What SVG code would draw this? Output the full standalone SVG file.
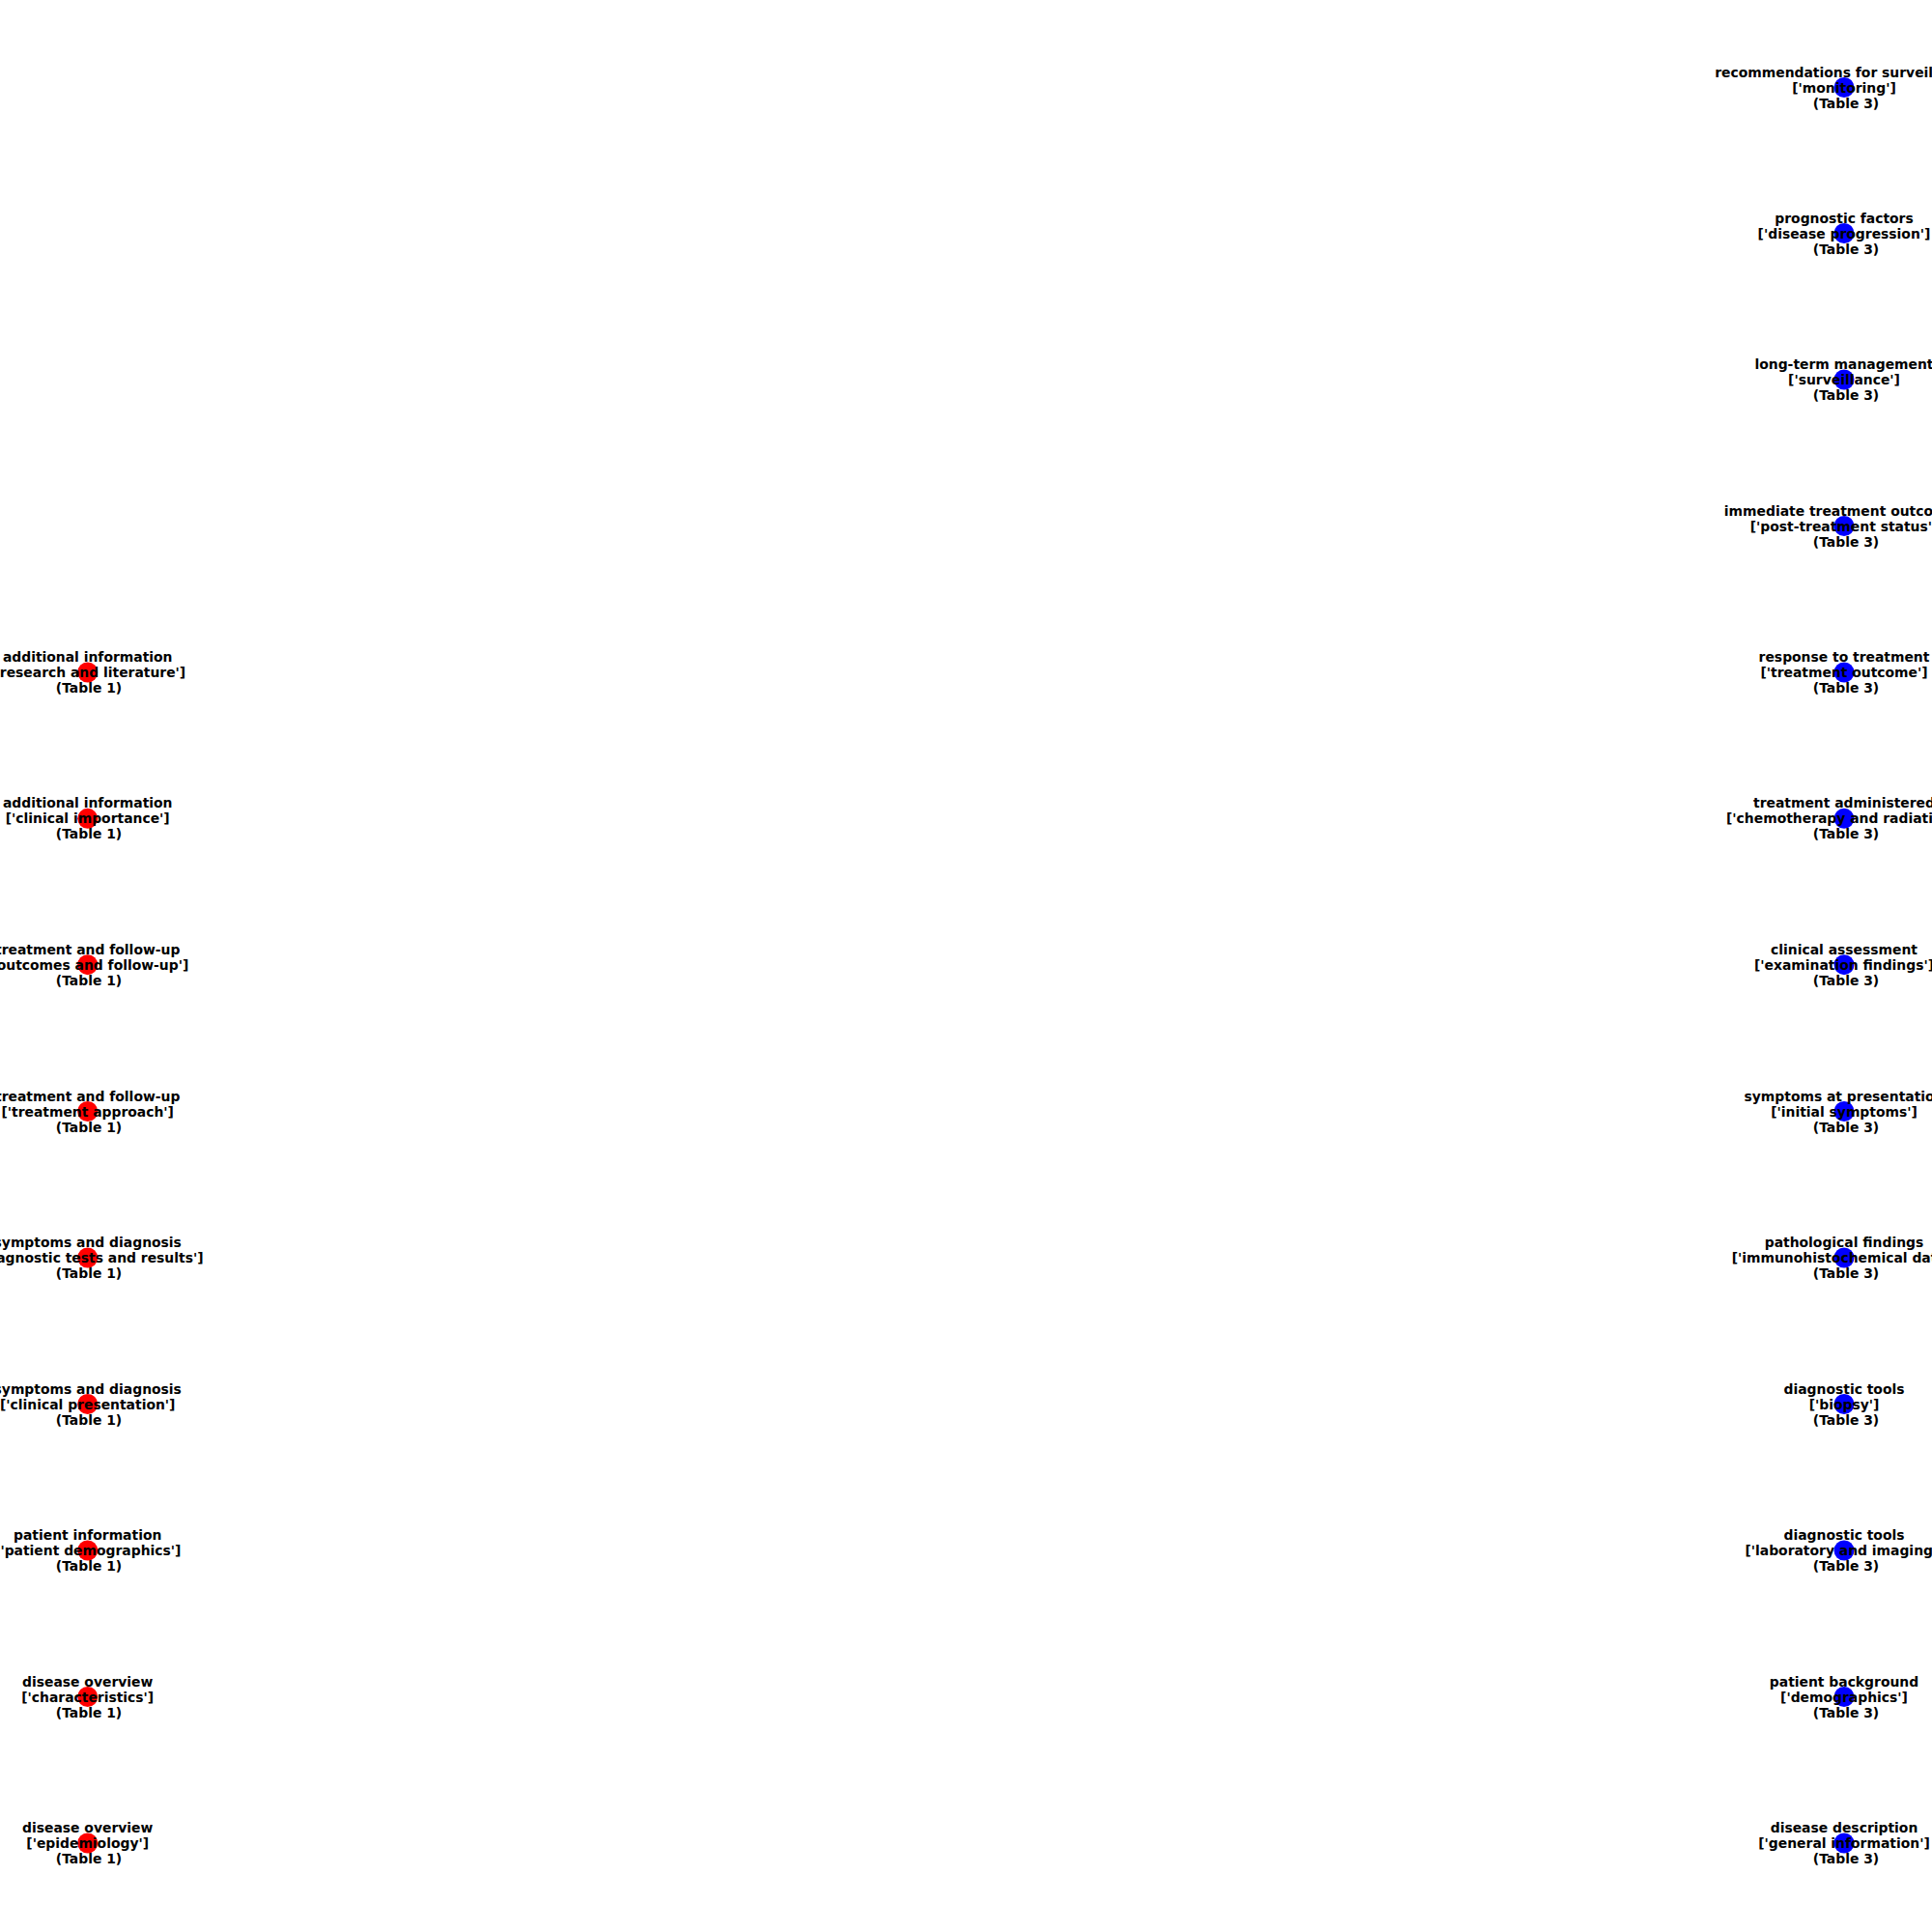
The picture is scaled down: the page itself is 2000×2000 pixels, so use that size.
<svg xmlns="http://www.w3.org/2000/svg" width="2000" height="2000" viewBox="0 0 2000 2000">
<style>
.lbl{font-family:"DejaVu Sans",sans-serif;font-weight:bold;font-size:13.9px;fill:#000;text-anchor:middle}
.t1{fill:#ff0000}
.t3{fill:#0000ff}
</style>
<rect width="2000" height="2000" fill="#fff"/>
<g id="connectors"></g>
<g id="n_l1"><circle class="t1" cx="90.7" cy="696" r="10.5"/><text class="lbl" x="90.7" y="685">additional information<tspan x="90.7" dy="16">['research and literature']</tspan><tspan x="92" dy="16">(Table 1)</tspan></text></g>
<g id="n_l2"><circle class="t1" cx="90.7" cy="847.3" r="10.5"/><text class="lbl" x="90.7" y="836.3">additional information<tspan x="90.7" dy="16">['clinical importance']</tspan><tspan x="92" dy="16">(Table 1)</tspan></text></g>
<g id="n_l3"><circle class="t1" cx="90.7" cy="998.7" r="10.5"/><text class="lbl" x="90.7" y="987.7">treatment and follow-up<tspan x="90.7" dy="16">['outcomes and follow-up']</tspan><tspan x="92" dy="16">(Table 1)</tspan></text></g>
<g id="n_l4"><circle class="t1" cx="90.7" cy="1150.5" r="10.5"/><text class="lbl" x="90.7" y="1139.5">treatment and follow-up<tspan x="90.7" dy="16">['treatment approach']</tspan><tspan x="92" dy="16">(Table 1)</tspan></text></g>
<g id="n_l5"><circle class="t1" cx="90.7" cy="1302" r="10.5"/><text class="lbl" x="90.7" y="1291">symptoms and diagnosis<tspan x="90.7" dy="16">['diagnostic tests and results']</tspan><tspan x="92" dy="16">(Table 1)</tspan></text></g>
<g id="n_l6"><circle class="t1" cx="90.7" cy="1453.5" r="10.5"/><text class="lbl" x="90.7" y="1442.5">symptoms and diagnosis<tspan x="90.7" dy="16">['clinical presentation']</tspan><tspan x="92" dy="16">(Table 1)</tspan></text></g>
<g id="n_l7"><circle class="t1" cx="90.7" cy="1605" r="10.5"/><text class="lbl" x="90.7" y="1594">patient information<tspan x="90.7" dy="16">['patient demographics']</tspan><tspan x="92" dy="16">(Table 1)</tspan></text></g>
<g id="n_l8"><circle class="t1" cx="90.7" cy="1756.5" r="10.5"/><text class="lbl" x="90.7" y="1745.5">disease overview<tspan x="90.7" dy="16">['characteristics']</tspan><tspan x="92" dy="16">(Table 1)</tspan></text></g>
<g id="n_l9"><circle class="t1" cx="90.7" cy="1908" r="10.5"/><text class="lbl" x="90.7" y="1897">disease overview<tspan x="90.7" dy="16">['epidemiology']</tspan><tspan x="92" dy="16">(Table 1)</tspan></text></g>
<g id="n_r1"><circle class="t3" cx="1909" cy="90.5" r="10.5"/><text class="lbl" x="1909" y="79.5">recommendations for surveillance<tspan x="1909" dy="16">['monitoring']</tspan><tspan x="1911" dy="16">(Table 3)</tspan></text></g>
<g id="n_r2"><circle class="t3" cx="1909" cy="241.5" r="10.5"/><text class="lbl" x="1909" y="230.5">prognostic factors<tspan x="1909" dy="16">['disease progression']</tspan><tspan x="1911" dy="16">(Table 3)</tspan></text></g>
<g id="n_r3"><circle class="t3" cx="1909" cy="393" r="10.5"/><text class="lbl" x="1909" y="382">long-term management<tspan x="1909" dy="16">['surveillance']</tspan><tspan x="1911" dy="16">(Table 3)</tspan></text></g>
<g id="n_r4"><circle class="t3" cx="1909" cy="544.5" r="10.5"/><text class="lbl" x="1909" y="533.5">immediate treatment outcomes<tspan x="1909" dy="16">['post-treatment status']</tspan><tspan x="1911" dy="16">(Table 3)</tspan></text></g>
<g id="n_r5"><circle class="t3" cx="1909" cy="696" r="10.5"/><text class="lbl" x="1909" y="685">response to treatment<tspan x="1909" dy="16">['treatment outcome']</tspan><tspan x="1911" dy="16">(Table 3)</tspan></text></g>
<g id="n_r6"><circle class="t3" cx="1909" cy="847.3" r="10.5"/><text class="lbl" x="1909" y="836.3">treatment administered<tspan x="1909" dy="16">['chemotherapy and radiation']</tspan><tspan x="1911" dy="16">(Table 3)</tspan></text></g>
<g id="n_r7"><circle class="t3" cx="1909" cy="998.7" r="10.5"/><text class="lbl" x="1909" y="987.7">clinical assessment<tspan x="1909" dy="16">['examination findings']</tspan><tspan x="1911" dy="16">(Table 3)</tspan></text></g>
<g id="n_r8"><circle class="t3" cx="1909" cy="1150.5" r="10.5"/><text class="lbl" x="1909" y="1139.5">symptoms at presentation<tspan x="1909" dy="16">['initial symptoms']</tspan><tspan x="1911" dy="16">(Table 3)</tspan></text></g>
<g id="n_r9"><circle class="t3" cx="1909" cy="1302" r="10.5"/><text class="lbl" x="1909" y="1291">pathological findings<tspan x="1909" dy="16">['immunohistochemical data']</tspan><tspan x="1911" dy="16">(Table 3)</tspan></text></g>
<g id="n_r10"><circle class="t3" cx="1909" cy="1453.5" r="10.5"/><text class="lbl" x="1909" y="1442.5">diagnostic tools<tspan x="1909" dy="16">['biopsy']</tspan><tspan x="1911" dy="16">(Table 3)</tspan></text></g>
<g id="n_r11"><circle class="t3" cx="1909" cy="1605" r="10.5"/><text class="lbl" x="1909" y="1594">diagnostic tools<tspan x="1909" dy="16">['laboratory and imaging']</tspan><tspan x="1911" dy="16">(Table 3)</tspan></text></g>
<g id="n_r12"><circle class="t3" cx="1909" cy="1756.5" r="10.5"/><text class="lbl" x="1909" y="1745.5">patient background<tspan x="1909" dy="16">['demographics']</tspan><tspan x="1911" dy="16">(Table 3)</tspan></text></g>
<g id="n_r13"><circle class="t3" cx="1909" cy="1908" r="10.5"/><text class="lbl" x="1909" y="1897">disease description<tspan x="1909" dy="16">['general information']</tspan><tspan x="1911" dy="16">(Table 3)</tspan></text></g>
</svg>
